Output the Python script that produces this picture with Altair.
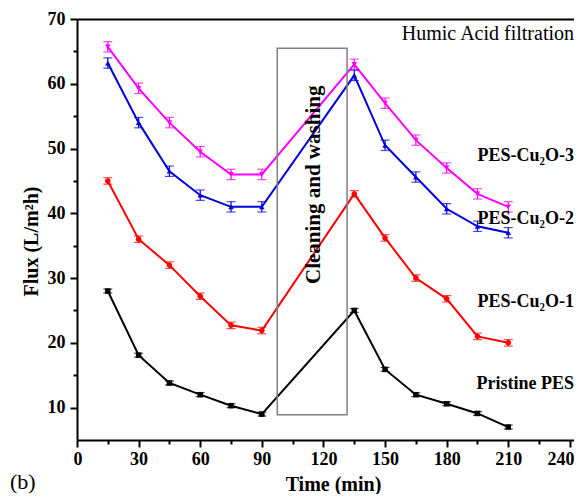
import altair as alt
import pandas as pd

times = [15, 30, 45, 60, 75, 90, 135, 150, 165, 180, 195, 210]
pristine = [28.0, 18.1, 13.8, 12.0, 10.3, 9.0, 25.0, 15.9, 12.0, 10.6, 9.1, 7.0]
cu2o_1 = [45.0, 36.0, 32.0, 27.2, 22.7, 21.9, 43.0, 36.2, 30.0, 26.8, 21.0, 20.0]
cu2o_2 = [63.2, 54.0, 46.5, 42.8, 41.0, 41.0, 61.3, 50.5, 45.6, 40.7, 38.0, 37.0]
cu2o_3 = [65.7, 59.3, 54.0, 49.5, 46.0, 46.0, 63.0, 57.0, 51.3, 47.0, 43.0, 41.0]
errors = [0.3, 0.5, 0.8, 0.8]

series_names = ["Pristine PES", "PES-Cu₂O-1", "PES-Cu₂O-2", "PES-Cu₂O-3"]
colors = ["#000000", "#ff0000", "#0000dd", "#ff00ff"]
shapes = ["square", "circle", "triangle-up", "triangle-down"]

X_MAX = 242
label_x = [X_MAX] * 4
label_y = [13.6, 26.3, 39.1, 48.8]

box_x = [97.5]
box_x2 = [131.5]
box_y = [8.9]
box_y2 = [65.5]

FONT = "Liberation Serif"

rows = []
for name, vals, err in zip(series_names, [pristine, cu2o_1, cu2o_2, cu2o_3], errors):
    for t, v in zip(times, vals):
        rows.append(dict(series=name, time=t, flux=v, lo=v - err, hi=v + err))
df = pd.DataFrame(rows)

xscale = alt.Scale(domain=[0, X_MAX], nice=False, zero=False)
yscale = alt.Scale(domain=[5, 70], nice=False, zero=False)
cscale = alt.Scale(domain=series_names, range=colors)
sscale = alt.Scale(domain=series_names, range=shapes)

main_x_axis = alt.Axis(
    orient="bottom", values=list(range(0, 241, 30)), grid=False,
    labelFlush=6, labelFlushOffset=4,
    labelFont=FONT, labelFontSize=18, labelFontWeight="bold", labelColor="black",
    tickSize=7, tickWidth=2, tickColor="black", domainWidth=2, domainColor="black",
    title="Time (min)", titleFont=FONT, titleFontSize=20, titleFontWeight="bold",
    titleColor="black", labelPadding=3, titleX=256, titleY=44, titleBaseline="middle",
)
main_y_axis = alt.Axis(
    orient="left", values=list(range(10, 71, 10)), grid=False, labelFlush=False,
    labelFont=FONT, labelFontSize=18, labelFontWeight="bold", labelColor="black",
    tickSize=7, tickWidth=2, tickColor="black", domainWidth=2, domainColor="black",
    title="Flux (L/m²h)", titleFont=FONT, titleFontSize=20, titleFontWeight="bold",
    titleColor="black", labelPadding=5, titlePadding=6, titleY=222,
)
minor_x_axis = alt.Axis(
    orient="bottom", values=list(range(15, 241, 30)), grid=False, labels=False,
    tickSize=4, tickWidth=2, tickColor="black", domain=False, title=None,
)
minor_y_axis = alt.Axis(
    orient="left", values=list(range(15, 70, 10)), grid=False, labels=False,
    tickSize=4, tickWidth=2, tickColor="black", domain=False, title=None,
)
top_axis = alt.Axis(
    orient="top", grid=False, labels=False, ticks=False, domainWidth=2,
    domainColor="black", title=None,
)

base = alt.Chart(df)

lines = base.mark_line(strokeWidth=2).encode(
    x=alt.X("time:Q", scale=xscale, axis=main_x_axis),
    y=alt.Y("flux:Q", scale=yscale, axis=main_y_axis),
    color=alt.Color("series:N", scale=cscale, legend=None),
    detail="series:N",
)

points = base.mark_point(filled=True, size=30, opacity=1).encode(
    x=alt.X("time:Q", scale=xscale, axis=minor_x_axis),
    y=alt.Y("flux:Q", scale=yscale, axis=minor_y_axis),
    color=alt.Color("series:N", scale=cscale, legend=None),
    shape=alt.Shape("series:N", scale=sscale, legend=None),
)

ebars = base.mark_errorbar(ticks={"size": 9}, thickness=1.2).encode(
    x=alt.X("time:Q", scale=xscale, axis=None),
    y=alt.Y("lo:Q", scale=yscale, axis=None, title=None),
    y2="hi:Q",
    color=alt.Color("series:N", scale=cscale, legend=None),
)

box_df = pd.DataFrame(dict(x=box_x, x2=box_x2, y=box_y, y2=box_y2))
box = alt.Chart(box_df).mark_rect(fill=None, stroke="#808080", strokeWidth=1.5).encode(
    x=alt.X("x:Q", scale=xscale, axis=top_axis),
    x2="x2:Q",
    y=alt.Y("y:Q", scale=yscale, axis=None),
    y2="y2:Q",
)

clean_df = pd.DataFrame(dict(x=[115.5], y=[44.4], t=["Cleaning and washing"]))
clean = alt.Chart(clean_df).mark_text(
    angle=270, font=FONT, fontSize=21, fontWeight="bold", color="black"
).encode(
    x=alt.X("x:Q", scale=xscale, axis=None),
    y=alt.Y("y:Q", scale=yscale, axis=None),
    text="t:N",
)

lab_df = pd.DataFrame(dict(x=label_x, y=label_y, t=series_names))
labels = alt.Chart(lab_df).mark_text(
    align="right", font=FONT, fontSize=18, fontWeight="bold", color="black", dx=0
).encode(
    x=alt.X("x:Q", scale=xscale, axis=None),
    y=alt.Y("y:Q", scale=yscale, axis=None),
    text="t:N",
)

humic_df = pd.DataFrame(dict(x=[X_MAX], y=[67.7], t=["Humic Acid filtration"]))
humic = alt.Chart(humic_df).mark_text(
    align="right", font=FONT, fontSize=20, color="black", dx=0
).encode(
    x=alt.X("x:Q", scale=xscale, axis=None),
    y=alt.Y("y:Q", scale=yscale, axis=None),
    text="t:N",
)

b_df = pd.DataFrame(dict(t=["(b)"]))
blabel = alt.Chart(b_df).mark_text(
    font=FONT, fontSize=22, color="black", align="left", baseline="middle"
).encode(
    x=alt.value(-67), y=alt.value(463), text="t:N"
)

chart = alt.layer(
    lines, ebars, points, box, clean, labels, humic, blabel
).resolve_axis(x="independent", y="independent").properties(
    width=497, height=421,
    autosize=alt.AutoSizeParams(type="none"),
    padding={"left": 69, "top": 11, "right": 0, "bottom": 54},
).configure_view(stroke=None)

chart.save("out.html", embed_options={"renderer": "svg", "actions": False})
